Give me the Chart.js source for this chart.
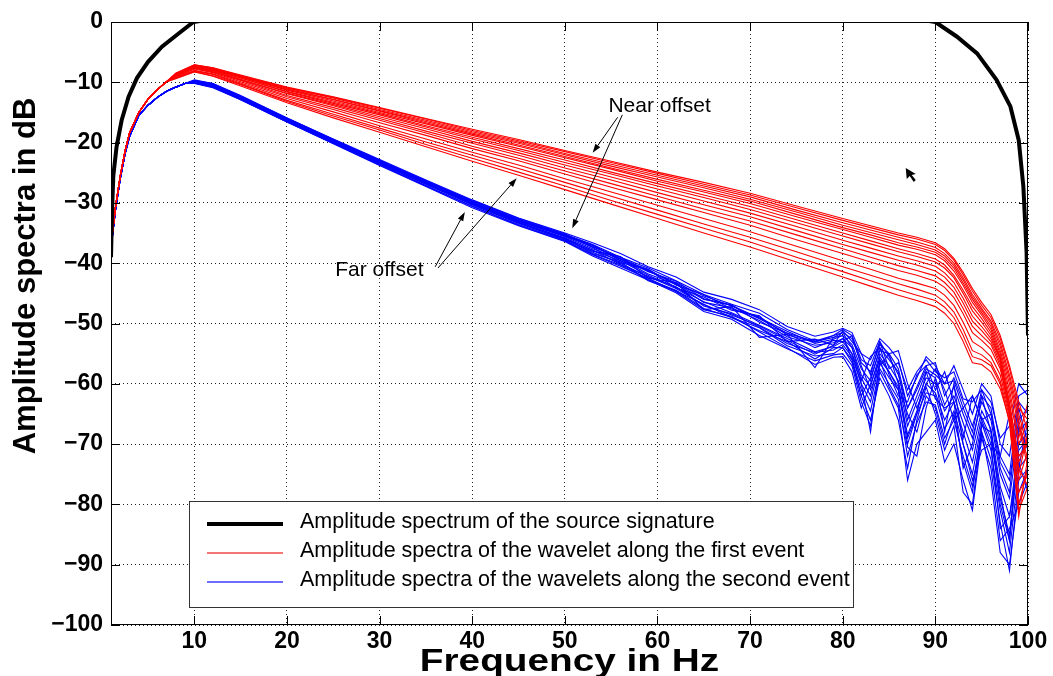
<!DOCTYPE html>
<html lang="en">
<head>
  <meta charset="UTF-8" />
  <title>Amplitude spectra</title>
  <script src="https://cdn.jsdelivr.net/npm/chart.js"></script>
  <style>
    body { margin: 0; background: #fff; }
    #wrap { width: 1053px; height: 676px; }
  </style>
</head>
<body>
  <div id="wrap"><canvas id="spec" width="1053" height="676"></canvas></div>
  <script>
    // ---- data (frequency in Hz, amplitude in dB) ----
    const X_TICKS = [10, 20, 30, 40, 50, 60, 70, 80, 90, 100];

    const SRC_F  = [1, 1.12, 1.25, 1.6, 2.15, 2.9, 3.8, 5, 6.5, 8.3, 9.9, 12, 50, 88, 90, 92.3, 94.5, 96.6, 98.1, 99, 99.5, 99.85, 100];
    const SRC_DB = [-39, -31, -25.5, -20.7, -16.3, -12.4, -9.3, -6.6, -4.1, -1.9, 0, 0.5, 0.8, 0.5, 0, -2.4, -5.2, -9.6, -14, -19.6, -27.3, -38.3, -52];

    // first event (red): shared low-frequency start, then one array per offset
    const RED_HEAD_F = [1, 1.5, 2, 2.5, 3, 4, 5, 6, 7];
    const RED_HEAD   = [-37, -30.5, -25.5, -21.5, -18.4, -15.0, -12.8, -11.2, -9.9];
    const RED_F = [8, 10, 12, 15, 20, 25, 30, 35, 40, 45, 50, 55, 60, 65, 70, 75, 80, 83, 86, 88, 90, 91, 92, 93, 94, 95, 96, 97, 98, 99, 100];
    const RED_LINES = [
      [-8.5,-7.1,-7.6,-8.8,-10.8,-12.4,-14.2,-16.0,-17.8,-19.5,-21.3,-23.1,-24.9,-26.6,-28.4,-30.5,-32.6,-33.8,-35.0,-35.7,-36.6,-37.6,-39.2,-41.5,-44.2,-46.5,-48.5,-52.0,-57.0,-63.0,-68.0],
      [-8.5,-7.1,-7.6,-8.9,-10.9,-12.5,-14.3,-16.1,-18.0,-19.7,-21.5,-23.3,-25.1,-26.9,-28.7,-30.8,-32.9,-34.1,-35.3,-36.0,-36.9,-37.9,-39.5,-41.9,-44.6,-47.0,-49.0,-52.5,-57.5,-64.0,-66.0],
      [-8.6,-7.2,-7.7,-8.9,-11.0,-12.6,-14.5,-16.3,-18.2,-19.9,-21.8,-23.6,-25.4,-27.2,-29.0,-31.2,-33.3,-34.5,-35.7,-36.5,-37.4,-38.4,-40.0,-42.4,-45.2,-47.5,-49.6,-53.2,-58.5,-65.0,-71.0],
      [-8.6,-7.2,-7.8,-9.0,-11.1,-12.8,-14.7,-16.5,-18.4,-20.1,-22.0,-23.9,-25.7,-27.5,-29.4,-31.5,-33.7,-34.9,-36.1,-36.9,-37.8,-38.8,-40.4,-42.8,-45.6,-47.8,-50.0,-53.8,-59.2,-66.0,-73.0],
      [-8.7,-7.3,-7.8,-9.1,-11.2,-12.9,-14.8,-16.7,-18.6,-20.4,-22.3,-24.2,-26.1,-27.9,-29.7,-31.9,-34.1,-35.3,-36.6,-37.3,-38.2,-39.2,-40.8,-43.3,-46.0,-48.2,-50.5,-54.5,-60.0,-67.0,-74.0],
      [-8.7,-7.3,-7.9,-9.1,-11.3,-13.1,-15.0,-16.9,-18.8,-20.6,-22.5,-24.4,-26.4,-28.2,-30.1,-32.3,-34.4,-35.7,-37.0,-37.7,-38.6,-39.6,-41.3,-43.7,-46.5,-48.6,-51.0,-55.0,-61.0,-69.0,-63.0],
      [-8.8,-7.4,-8.0,-9.3,-11.5,-13.3,-15.2,-17.2,-19.1,-21.0,-22.9,-24.9,-26.8,-28.7,-30.6,-32.8,-35.0,-36.3,-37.6,-38.4,-39.3,-40.3,-42.0,-44.5,-47.2,-49.2,-51.5,-55.5,-62.0,-70.0,-66.0],
      [-8.8,-7.5,-8.0,-9.3,-11.6,-13.5,-15.4,-17.4,-19.4,-21.3,-23.3,-25.2,-27.2,-29.1,-31.1,-33.3,-35.5,-36.8,-38.1,-38.9,-39.8,-40.8,-42.4,-45.0,-47.9,-49.8,-52.0,-55.8,-63.0,-73.0,-69.0],
      [-8.9,-7.5,-8.1,-9.5,-11.8,-13.7,-15.7,-17.7,-19.8,-21.7,-23.7,-25.7,-27.7,-29.7,-31.7,-33.9,-36.2,-37.5,-38.8,-39.6,-40.5,-41.6,-43.2,-45.8,-48.8,-50.5,-52.5,-56.0,-63.5,-72.0,-70.0],
      [-8.9,-7.6,-8.2,-9.6,-11.9,-13.9,-16.0,-18.1,-20.1,-22.1,-24.2,-26.2,-28.3,-30.3,-32.3,-34.6,-36.9,-38.2,-39.5,-40.3,-41.3,-42.3,-44.0,-46.6,-49.6,-51.2,-53.0,-56.5,-64.0,-74.0,-77.0],
      [-9.0,-7.7,-8.3,-9.7,-12.2,-14.2,-16.3,-18.4,-20.6,-22.6,-24.7,-26.8,-28.9,-31.0,-33.0,-35.3,-37.6,-39.0,-40.4,-41.2,-42.1,-43.2,-44.8,-47.5,-50.5,-52.0,-53.5,-57.0,-64.5,-75.0,-68.0],
      [-9.1,-7.8,-8.4,-9.9,-12.4,-14.5,-16.7,-18.8,-21.0,-23.0,-25.2,-27.4,-29.5,-31.6,-33.7,-36.1,-38.4,-39.8,-41.2,-42.0,-43.0,-44.0,-45.7,-48.4,-51.5,-52.8,-54.3,-57.5,-64.5,-76.0,-71.0],
      [-9.2,-8.0,-8.6,-10.1,-12.7,-14.9,-17.2,-19.4,-21.6,-23.7,-26.0,-28.2,-30.4,-32.6,-34.8,-37.2,-39.6,-41.0,-42.5,-43.3,-44.2,-45.3,-47.0,-49.8,-53.0,-54.0,-55.5,-58.5,-65.0,-78.0,-75.0],
      [-9.3,-8.1,-8.7,-10.3,-13.0,-15.3,-17.6,-19.9,-22.1,-24.3,-26.6,-28.9,-31.2,-33.5,-35.7,-38.1,-40.6,-42.0,-43.4,-44.3,-45.3,-46.4,-48.1,-51.0,-54.5,-55.2,-56.5,-59.5,-65.5,-80.0,-74.0],
      [-9.3,-8.2,-8.9,-10.4,-13.2,-15.6,-17.9,-20.3,-22.6,-24.9,-27.2,-29.6,-31.9,-34.2,-36.5,-39.0,-41.4,-42.9,-44.4,-45.3,-46.2,-47.3,-49.0,-52.0,-55.5,-56.0,-57.0,-60.0,-66.5,-81.0,-77.0],
      [-9.4,-8.3,-9.0,-10.6,-13.4,-15.9,-18.3,-20.7,-23.1,-25.4,-27.8,-30.2,-32.6,-35.0,-37.3,-39.8,-42.3,-43.8,-45.3,-46.2,-47.2,-48.3,-50.0,-53.0,-56.5,-56.8,-58.0,-60.8,-66.0,-82.0,-72.0]
    ];

    // second event (blue)
    const BLUE_HEAD_F = [1, 1.5, 2, 2.5, 3, 4, 5, 6, 7, 8, 9];
    const BLUE_HEAD   = [-37.5, -31, -26, -22, -19, -15.5, -13.8, -12.5, -11.5, -10.8, -10.2];
    const BLUE_F = [10, 12, 15, 20, 25, 30, 35, 40, 45, 50, 53, 56, 59, 62, 65, 68, 71, 74, 77, 79,
                    80, 81, 82, 83, 84, 85, 86, 87, 88, 89, 90, 91, 92, 93, 94, 95, 96, 97, 98, 99, 100];
    const BLUE_LINES = [
      [-9.6,-10.2,-12.2,-15.9,-19.4,-22.8,-26.2,-29.5,-32.5,-35.0,-36.6,-38.4,-40.6,-42.3,-44.8,-46.0,-47.7,-50.5,-52.1,-51.4,-50.8,-51.5,-55.0,-56.0,-52.5,-54.0,-56.0,-62.0,-59.0,-55.5,-57.0,-60.0,-57.0,-61.0,-65.0,-60.0,-62.0,-70.0,-72.0,-62.0,-61.0],
      [-9.7,-10.3,-12.3,-16.0,-19.5,-23.0,-26.3,-29.7,-32.7,-35.2,-36.9,-39.0,-40.8,-42.9,-45.2,-46.8,-48.3,-51.0,-52.9,-52.0,-51.5,-52.5,-56.5,-58.0,-53.5,-55.0,-57.5,-64.0,-60.5,-57.0,-56.5,-62.0,-59.0,-63.0,-67.0,-62.0,-64.0,-73.0,-76.0,-66.0,-64.0],
      [-9.8,-10.4,-12.4,-16.1,-19.6,-23.1,-26.5,-29.8,-32.8,-35.4,-37.2,-39.2,-41.4,-43.0,-45.9,-47.0,-49.1,-51.3,-53.3,-52.6,-52.0,-53.5,-57.5,-59.5,-54.0,-56.0,-58.0,-66.0,-62.0,-58.0,-59.0,-63.5,-60.5,-65.0,-69.0,-63.0,-66.0,-75.0,-79.0,-68.0,-66.0],
      [-9.9,-10.5,-12.5,-16.2,-19.7,-23.2,-26.6,-30.0,-33.0,-35.6,-37.6,-39.3,-41.8,-43.5,-46.5,-47.4,-49.5,-52.2,-53.6,-53.2,-52.5,-54.0,-58.5,-60.5,-55.0,-57.0,-59.5,-67.0,-63.0,-59.0,-60.0,-64.5,-62.0,-66.5,-71.0,-64.5,-67.5,-77.0,-82.0,-70.0,-68.0],
      [-10.0,-10.6,-12.6,-16.3,-19.8,-23.3,-26.8,-30.2,-33.2,-35.8,-37.9,-39.6,-42.0,-44.0,-46.4,-48.2,-50.3,-52.5,-54.7,-53.8,-53.0,-55.0,-59.0,-62.0,-55.5,-58.0,-60.5,-68.5,-64.5,-60.0,-61.5,-66.0,-63.0,-68.0,-73.0,-65.5,-69.0,-79.0,-85.0,-72.0,-70.0],
      [-10.0,-10.7,-12.7,-16.4,-20.0,-23.5,-26.9,-30.3,-33.4,-36.0,-38.2,-40.0,-42.3,-43.9,-47.1,-48.4,-50.6,-53.3,-54.8,-54.4,-53.5,-55.5,-60.0,-63.0,-56.5,-59.0,-61.0,-70.0,-65.0,-61.5,-62.0,-67.5,-64.5,-70.0,-75.0,-66.5,-71.0,-81.0,-88.0,-74.0,-72.0],
      [-10.1,-10.8,-12.8,-16.5,-20.1,-23.6,-27.1,-30.5,-33.6,-36.2,-38.5,-40.3,-42.7,-44.5,-47.5,-49.0,-50.7,-53.7,-55.4,-55.0,-54.0,-56.0,-61.0,-64.5,-57.5,-60.0,-62.5,-72.0,-66.5,-63.0,-63.5,-69.0,-66.0,-72.0,-77.0,-68.0,-72.5,-83.0,-91.0,-76.0,-74.0],
      [-10.2,-10.9,-12.9,-16.6,-20.2,-23.8,-27.3,-30.8,-33.8,-36.4,-38.8,-40.8,-42.8,-44.9,-48.0,-49.3,-52.0,-54.2,-56.2,-55.2,-55.0,-57.0,-63.0,-67.0,-58.0,-61.0,-64.0,-76.0,-70.0,-68.0,-66.0,-73.0,-70.0,-76.0,-81.0,-69.0,-74.0,-86.0,-84.0,-80.0,-76.0],
      [-9.7,-10.2,-12.3,-15.9,-19.5,-22.9,-26.5,-29.6,-32.6,-35.1,-37.4,-39.9,-41.1,-44.1,-45.6,-47.8,-48.7,-53.0,-52.6,-53.6,-51.2,-53.0,-55.0,-58.5,-53.0,-57.5,-56.5,-61.0,-58.0,-56.0,-58.0,-59.0,-58.0,-62.5,-63.0,-61.0,-63.0,-69.0,-67.0,-60.0,-62.0],
      [-10.0,-10.6,-12.7,-16.4,-19.8,-23.4,-26.8,-30.3,-33.3,-36.1,-38.0,-38.9,-42.5,-43.2,-47.7,-47.2,-52.3,-51.8,-57.3,-52.3,-52.0,-56.0,-62.0,-59.0,-54.5,-55.0,-60.0,-65.0,-68.0,-62.0,-64.0,-70.0,-65.0,-73.0,-78.0,-67.0,-68.0,-80.0,-86.0,-71.0,-69.0],
      [-9.8,-10.3,-12.4,-16.0,-19.6,-23.0,-26.4,-29.9,-32.9,-35.3,-37.0,-39.6,-41.2,-43.4,-46.0,-46.9,-49.8,-51.6,-54.0,-52.8,-53.0,-52.0,-57.0,-61.0,-57.0,-55.0,-54.5,-60.0,-64.0,-60.0,-57.5,-61.0,-66.0,-64.0,-62.0,-66.0,-70.0,-72.0,-65.0,-74.0,-66.0],
      [-10.0,-10.7,-12.6,-16.3,-19.9,-23.4,-26.9,-30.1,-33.2,-35.9,-38.4,-39.8,-42.9,-44.6,-46.8,-49.0,-51.2,-53.0,-55.9,-54.0,-54.0,-56.5,-62.0,-66.0,-59.0,-62.0,-66.0,-74.0,-66.0,-60.5,-65.0,-71.0,-67.0,-78.0,-80.0,-68.0,-76.0,-88.0,-90.0,-78.0,-74.0],
      [-9.9,-10.4,-12.5,-16.1,-19.7,-23.1,-26.6,-29.9,-33.1,-35.5,-37.3,-39.0,-41.3,-43.3,-45.4,-47.1,-49.2,-51.6,-53.0,-52.3,-51.5,-54.0,-59.5,-55.5,-54.0,-58.5,-62.0,-63.0,-58.5,-57.0,-61.0,-58.0,-63.0,-69.0,-62.0,-66.0,-65.0,-74.0,-78.0,-64.0,-70.0],
      [-10.1,-10.8,-12.9,-16.6,-20.1,-23.7,-27.2,-30.6,-33.7,-36.3,-38.6,-40.5,-42.5,-44.7,-47.7,-48.8,-51.4,-54.0,-56.8,-55.6,-55.5,-58.0,-64.0,-60.0,-56.0,-60.5,-63.5,-70.5,-72.0,-64.0,-59.0,-68.0,-60.0,-70.0,-76.0,-71.0,-70.0,-84.0,-82.0,-73.0,-78.0],
      [-9.8,-10.4,-12.4,-16.1,-19.6,-23.2,-26.6,-30.0,-32.9,-35.5,-37.0,-39.4,-41.0,-43.6,-45.2,-47.6,-48.9,-51.9,-53.1,-52.0,-51.0,-52.0,-56.0,-57.0,-53.0,-55.5,-58.5,-64.0,-61.0,-57.5,-58.5,-60.0,-59.5,-64.0,-68.0,-61.0,-65.0,-72.0,-75.0,-63.0,-65.0],
      [-10.0,-10.6,-12.6,-16.3,-19.9,-23.4,-26.8,-30.2,-33.3,-35.9,-37.8,-40.2,-42.2,-44.2,-46.9,-48.6,-50.4,-52.8,-55.1,-53.6,-52.5,-55.0,-60.0,-68.0,-56.0,-58.0,-61.0,-69.0,-65.0,-58.0,-62.5,-64.0,-63.0,-74.0,-70.0,-62.0,-68.0,-78.0,-86.0,-67.0,-71.0]
    ];

    const LEGEND_TEXT = [
      "Amplitude spectrum of the source signature",
      "Amplitude spectra of the wavelet along the first event",
      "Amplitude spectra of the wavelets along the second event"
    ];
    // annotation text anchors and arrows, in data units (Hz, dB)
    const NOTES = [
      { text: "Near offset", f: 54.7, db: -13.9 },
      { text: "Far offset", f: 25.2, db: -41.1 }
    ];
    const ARROWS = [
      [55.7, -15.8, 53.0, -21.7],
      [56.2, -15.4, 50.8, -34.2],
      [36.0, -40.6, 39.2, -31.5],
      [36.3, -40.8, 44.8, -25.9]
    ];
    const CURSOR_AT = [86.8, -24.2];

    const BLACK = "#000000", RED = "#ff0000", BLUE = "#0000ff";
    const FONT = "'Liberation Sans', Arial, Helvetica, sans-serif";

    const pts = (fs, vs) => fs.map((f, i) => ({ x: f, y: vs[i] }));
    const redPts = RED_LINES.map(l => pts(RED_HEAD_F, RED_HEAD).concat(pts(RED_F, l)));
    const bluePts = BLUE_LINES.map(l => pts(BLUE_HEAD_F, BLUE_HEAD).concat(pts(BLUE_F, l)));

    const datasets = [
      { label: LEGEND_TEXT[0], data: pts(SRC_F, SRC_DB), borderColor: BLACK, borderWidth: 4, order: 0, clip: 0 }
    ];
    redPts.forEach(d => datasets.push({ label: LEGEND_TEXT[1], data: d, borderColor: RED, borderWidth: 1.1, order: 1 }));
    bluePts.forEach(d => datasets.push({ label: LEGEND_TEXT[2], data: d, borderColor: BLUE, borderWidth: 1.1, order: 2 }));
    datasets.forEach(d => { d.pointRadius = 0; d.tension = 0; d.fill = false; });

    function arrow(ctx, x1, y1, x2, y2) {
      const a = Math.atan2(y2 - y1, x2 - x1), len = 9, w = 3;
      ctx.beginPath();
      ctx.moveTo(x1, y1);
      ctx.lineTo(x2 - len * Math.cos(a), y2 - len * Math.sin(a));
      ctx.stroke();
      ctx.beginPath();
      ctx.moveTo(x2, y2);
      ctx.lineTo(x2 - len * Math.cos(a) + w * Math.sin(a), y2 - len * Math.sin(a) - w * Math.cos(a));
      ctx.lineTo(x2 - len * Math.cos(a) - w * Math.sin(a), y2 - len * Math.sin(a) + w * Math.cos(a));
      ctx.closePath();
      ctx.fill();
    }

    const legendBox = {
      id: "legendBox",
      afterDatasetsDraw(chart) {
        const { ctx } = chart;
        const bx = 189, by = 501, bw = 664, bh = 106;
        ctx.save();
        ctx.fillStyle = "#fff";
        ctx.fillRect(bx, by, bw, bh);
        ctx.strokeStyle = "#333";
        ctx.lineWidth = 1;
        ctx.strokeRect(bx + 0.5, by + 0.5, bw, bh);
        const rows = [[BLACK, 4], ["#f04848", 1.5], ["#3c3cff", 1.5]];
        ctx.font = "21.5px " + FONT;
        ctx.textBaseline = "middle";
        rows.forEach((r, i) => {
          const yy = by + 23 + i * 29;
          ctx.strokeStyle = r[0];
          ctx.lineWidth = r[1];
          ctx.beginPath();
          ctx.moveTo(207, yy);
          ctx.lineTo(283, yy);
          ctx.stroke();
          ctx.fillStyle = "#000";
          ctx.fillText(LEGEND_TEXT[i], 300, yy - 2);
        });
        ctx.restore();
      }
    };

    const overlay = {
      id: "overlay",
      afterDraw(chart) {
        const { ctx, chartArea: a, scales: { x, y } } = chart;
        ctx.save();
        // frame and inward ticks
        ctx.strokeStyle = "#000";
        ctx.lineWidth = 1;
        ctx.strokeRect(a.left + 0.5, a.top + 0.5, a.right - a.left - 1, a.bottom - a.top - 1);
        ctx.beginPath();
        X_TICKS.forEach(v => {
          const px = Math.round(x.getPixelForValue(v)) + 0.5;
          ctx.moveTo(px, a.bottom); ctx.lineTo(px, a.bottom - 9);
          ctx.moveTo(px, a.top); ctx.lineTo(px, a.top + 9);
        });
        y.ticks.forEach(t => {
          const py = Math.round(y.getPixelForValue(t.value)) + 0.5;
          ctx.moveTo(a.left, py); ctx.lineTo(a.left + 9, py);
          ctx.moveTo(a.right, py); ctx.lineTo(a.right - 9, py);
        });
        ctx.stroke();

        // annotations
        ctx.fillStyle = "#000";
        ctx.font = "21px " + FONT;
        ctx.textBaseline = "middle";
        NOTES.forEach(n => ctx.fillText(n.text, x.getPixelForValue(n.f), y.getPixelForValue(n.db)));
        ctx.lineWidth = 1;
        ARROWS.forEach(r => arrow(ctx, x.getPixelForValue(r[0]), y.getPixelForValue(r[1]),
                                       x.getPixelForValue(r[2]), y.getPixelForValue(r[3])));

        // mouse pointer left in the screenshot
        const cx = x.getPixelForValue(CURSOR_AT[0]), cy = y.getPixelForValue(CURSOR_AT[1]);
        ctx.beginPath();
        ctx.moveTo(cx, cy);
        ctx.lineTo(cx + 1, cy + 11);
        ctx.lineTo(cx + 4, cy + 8);
        ctx.lineTo(cx + 8, cy + 14);
        ctx.lineTo(cx + 10, cy + 12);
        ctx.lineTo(cx + 6, cy + 7);
        ctx.lineTo(cx + 10, cy + 6);
        ctx.closePath();
        ctx.fill();

        // axis titles
        ctx.font = "bold 31px " + FONT;
        ctx.textAlign = "center";
        ctx.save();
        ctx.translate((a.left + a.right) / 2, 662);
        ctx.scale(1.25, 1);
        ctx.fillText("Frequency in Hz", 0, 0);
        ctx.restore();
        ctx.translate(26, 276);
        ctx.rotate(-Math.PI / 2);
        ctx.fillText("Amplitude spectra in dB", 0, 0);
        ctx.restore();
      }
    };

    const tickFont = { family: FONT, size: 23, weight: "bold" };

    new Chart(document.getElementById("spec").getContext("2d"), {
      type: "line",
      data: { datasets },
      plugins: [legendBox, overlay],
      options: {
        responsive: false,
        animation: false,
        layout: { padding: { left: 0, top: 22, right: 25, bottom: 0 } },
        plugins: { legend: { display: false }, tooltip: { enabled: false } },
        scales: {
          x: {
            type: "linear",
            min: 1,
            max: 100,
            afterBuildTicks: s => { s.ticks = X_TICKS.map(v => ({ value: v })); },
            afterFit: s => { s.height = 51; },
            grid: { color: "#222", lineWidth: 1, drawTicks: false },
            border: { display: false, dash: [1, 3] },
            ticks: { color: "#000", font: tickFont, padding: 3, maxRotation: 0, autoSkip: false }
          },
          y: {
            min: -100,
            max: 0,
            afterFit: s => { s.width = 111; },
            grid: { color: "#222", lineWidth: 1, drawTicks: false },
            border: { display: false, dash: [1, 3] },
            ticks: {
              stepSize: 10,
              color: "#000",
              font: tickFont,
              padding: 8,
              callback: v => (v < 0 ? "\u2212" + Math.abs(v) : String(v))
            }
          }
        }
      }
    });
  </script>
</body>
</html>
